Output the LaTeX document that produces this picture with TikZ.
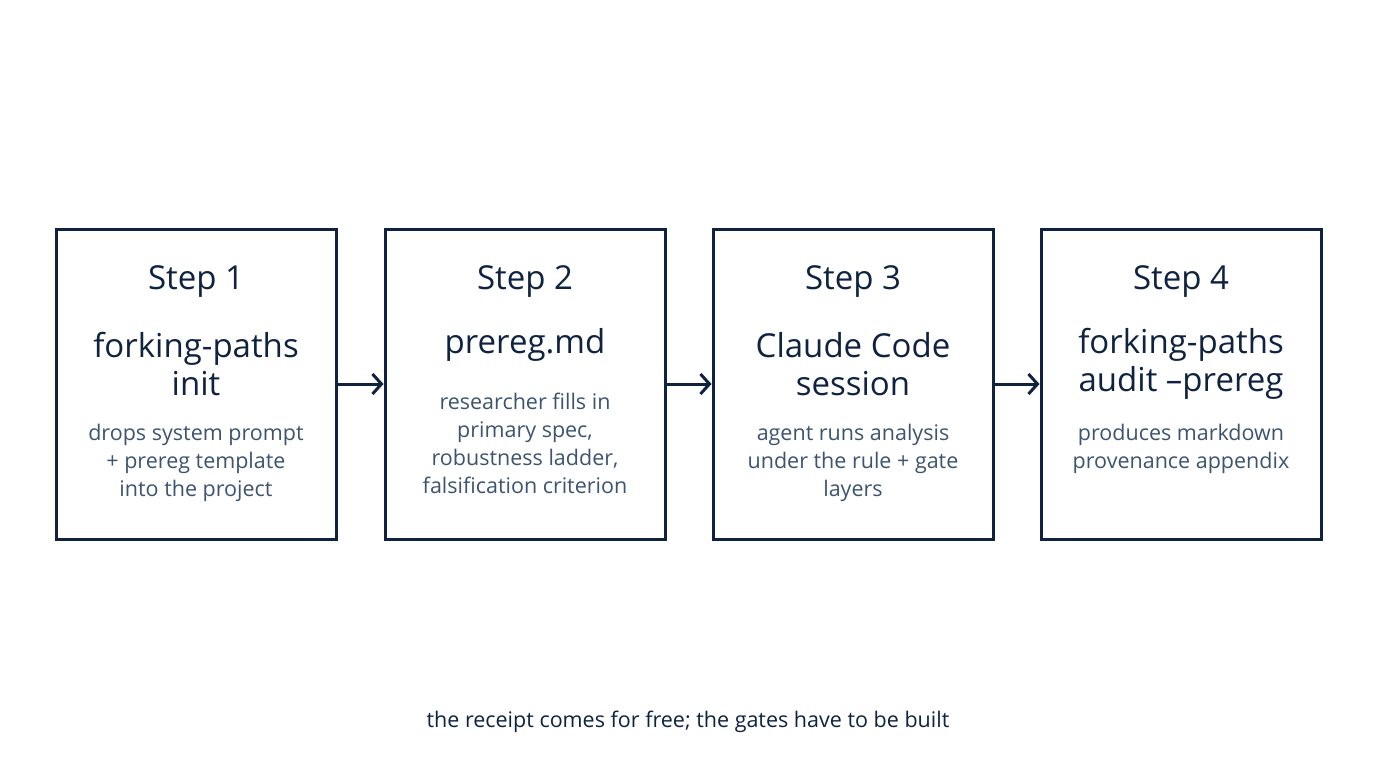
\documentclass[tikz,border=0pt]{standalone}
\usepackage{fontspec}
\setmainfont{Open Sans}
\usetikzlibrary{arrows.meta}
\definecolor{navy}{HTML}{0F2340}
\definecolor{slate}{HTML}{3D5470}
\begin{document}
\begin{tikzpicture}[x=1pt,y=-1pt,
      box/.style={rectangle,draw=navy,line width=3pt,minimum width=280pt,minimum height=310pt,inner sep=0pt},
      steptitle/.style={text=navy,font=\fontsize{33}{38}\selectfont},
      desc/.style={text=slate,align=center,font=\fontsize{21.5}{28}\selectfont},
      pointer/.style={line width=3pt,draw=navy,-{Straight Barb[length=9pt,width=20pt]}}
      ]
  \useasboundingbox (0,0) rectangle (1376,768);
  % boxes
  \node[box] (b1) at (196,384) {};
  \node[box] (b2) at (525,384) {};
  \node[box] (b3) at (853,384) {};
  \node[box] (b4) at (1181,384) {};
  % step titles
  \node[steptitle] (t1) at (196,282) {Step 1};
  \node[steptitle] (t2) at (525,282) {Step 2};
  \node[steptitle] (t3) at (853,282) {Step 3};
  \node[steptitle] (t4) at (1181,282) {Step 4};
  \node[steptitle,align=center] (n1) at (196,364) {forking-paths\\init};
  \node[steptitle] (n2) at (525,345) {prereg.md};
  \node[steptitle,align=center] (n3) at (853,364) {Claude Code\\session};
  \node[steptitle,align=center] (n4) at (1181,364) {forking-paths\\audit --prereg};
  % descriptions
  \node[desc] (d1) at (196,463) {drops system prompt\\+ prereg template\\into the project};
  \node[desc] (d2) at (525,443) {researcher fills in\\primary spec,\\robustness ladder,\\falsification criterion};
  \node[desc] (d3) at (853,463) {agent runs analysis\\under the rule + gate\\layers};
  \node[desc] (d4) at (1181,449) {produces markdown\\provenance appendix};
  % arrows
  \draw[pointer] (b1.east) -- (b2.west);
  \draw[pointer] (b2.east) -- (b3.west);
  \draw[pointer] (b3.east) -- (b4.west);
  \node[text=navy,font=\fontsize{21.5}{26}\selectfont] (cap) at (688,722) {the receipt comes for free; the gates have to be built};
\end{tikzpicture}
\end{document}
